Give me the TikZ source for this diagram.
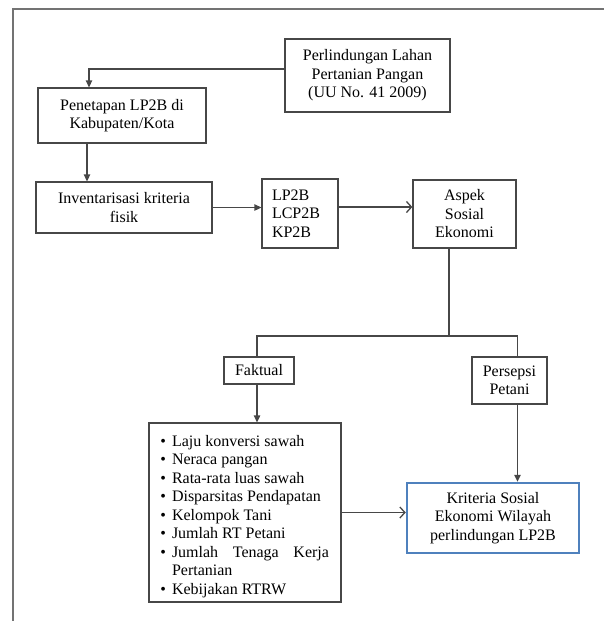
\documentclass[tikz,border=0pt]{standalone}
\usepackage{fontspec}
\setmainfont{Liberation Serif}
\usepackage{tikz}
\usetikzlibrary{arrows.meta,positioning,calc}
\definecolor{garis}{HTML}{474747}
\definecolor{biru}{HTML}{4F81BD}
\newcommand{\butir}{\par\noindent\llap{\textbullet\hspace{6pt}}}

\begin{document}
\begin{tikzpicture}[x=1pt,y=-1pt,
    font=\fontsize{16pt}{18.5pt}\selectfont,text=black,
    kotak/.style={rectangle,draw=garis,line width=1.3pt,align=center,inner sep=0pt},
    garis/.style={draw=garis,line width=1.3pt},
    panah/.style={garis,-{Triangle[length=7pt,width=6.5pt]}},
    panahbuka/.style={garis,-{Straight Barb[length=5pt,width=11pt]}}]
  \useasboundingbox (0,0) rectangle (604,621);
  \draw[black!55,line width=2pt] (13,621) -- (13,9) -- (604,9);
  % baris atas
  \node[kotak,minimum width=165pt,minimum height=73pt] (uu) at (367.5,75.5)
    {Perlindungan Lahan\\Pertanian Pangan\\(UU No. 41 2009)};
  \node[kotak,minimum width=168pt,minimum height=55pt] (pen) at (122,115.5)
    {Penetapan LP2B di\\Kabupaten/Kota};
  \node[kotak,minimum width=176pt,minimum height=51pt] (inv) at (124,207.5)
    {Inventarisasi kriteria\\fisik};
  \node[kotak,minimum width=76pt,minimum height=69pt,text width=56pt,align=left] (lp) at (300,213.5)
    {LP2B\\LCP2B\\KP2B};
  \node[kotak,minimum width=103pt,minimum height=68pt] (asp) at (464.5,214)
    {Aspek\\Sosial\\Ekonomi};
  %%%
  \node[kotak,minimum width=70pt,minimum height=27pt] (fak) at (259,370.5) {Faktual};
  \node[kotak,minimum width=75pt,minimum height=47pt] (pers) at (509.5,380.5) {Persepsi\\Petani};
  \node[kotak,text width=180pt,inner xsep=6pt,minimum height=179pt,align=justify] (daftar) at (245,512.5)
    {\leftskip=17pt\rightskip=6pt
     \butir Laju konversi sawah
     \butir Neraca pangan
     \butir Rata-rata luas sawah
     \butir Disparsitas Pendapatan
     \butir Kelompok Tani
     \butir Jumlah RT Petani
     \butir Jumlah Tenaga Kerja\linebreak Pertanian
     \butir Kebijakan RTRW\par};
  \node[kotak,draw=biru,line width=2.5pt,minimum width=172pt,minimum height=70pt] (krit) at (493,518)
    {Kriteria Sosial\\Ekonomi Wilayah\\perlindungan LP2B};
  %%%
  \coordinate (cabang) at (449,336);
  \coordinate (kiri) at (257,336);
  \coordinate (kanan) at (517.5,336);
  \draw[panah] ([yshift=6.5pt]uu.west) -| ([xshift=-33pt]pen.north);
  \draw[panah] ([xshift=-35pt]pen.south) -- ([xshift=-35pt]pen.south |- inv.north);
  \draw[panah] (inv.east) -- (inv.east -| lp.west);
  \draw[panahbuka] ([yshift=6.5pt]lp.east) -- ([yshift=6.5pt]lp.east -| asp.west);
  \draw[garis] (cabang |- asp.south) -- (cabang);
  \draw[garis] (kiri |- fak.north) -- (kiri) -- (kanan) -- (kanan |- pers.north);
  \draw[panah] (kiri |- fak.south) -- (kiri |- daftar.north);
  \draw[panah] (kanan |- pers.south) -- (kanan |- krit.north);
  \draw[panahbuka] (daftar.east) -- (daftar.east -| krit.west);
\end{tikzpicture}
\end{document}
